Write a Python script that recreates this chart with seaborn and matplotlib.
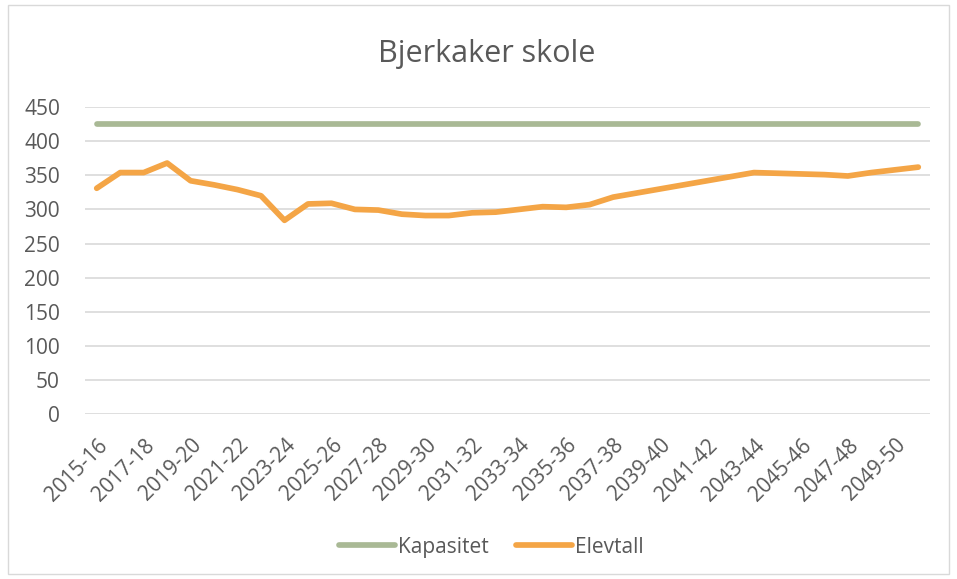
import pandas as pd
import seaborn as sns
import matplotlib.pyplot as plt
from matplotlib.patches import Rectangle

# school years 2015-16 .. 2050-51
years = [f"{y}-{str(y + 1)[-2:]}" for y in range(2015, 2051)]
kapasitet = [425] * len(years)
elevtall = [331, 354, 354, 368, 342, 336, 329, 320, 284, 308, 309, 300,
            299, 293, 291, 291, 295, 296, 300, 304, 303, 307, 318, 324,
            330, 336, 342, 348, 354, 353, 352, 351, 349, 354, 358, 362]

df = pd.DataFrame({'Skoleår': years, 'Kapasitet': kapasitet, 'Elevtall': elevtall})
long = df.melt(id_vars='Skoleår', var_name='Serie', value_name='Antall')
long['pos'] = long['Skoleår'].map({y: i for i, y in enumerate(years)})

sns.set_style('white')
plt.rcParams['font.family'] = ['Open Sans', 'DejaVu Sans']
grey = '#595959'
green, orange = '#A9B995', '#F4A546'

fig = plt.figure(figsize=(9.57, 5.79), dpi=100)
ax = fig.add_axes([0.0888, 0.285, 0.883, 0.530])

sns.lineplot(data=long, x='pos', y='Antall', hue='Serie',
             palette={'Kapasitet': green, 'Elevtall': orange},
             linewidth=4.1, ax=ax, legend=False, zorder=3,
             solid_capstyle='round', solid_joinstyle='round')
for line in ax.lines:
    line.set_clip_on(False)

ax.set_xlim(-0.5, len(years) - 0.5)
ax.set_ylim(0, 450)
ax.set_yticks(range(0, 451, 50))
ax.set_xticks(range(0, len(years), 2))
ax.set_xticklabels(years[::2], rotation=45, ha='right', rotation_mode='anchor')
ax.tick_params(axis='both', length=0, labelsize=15, labelcolor=grey)
ax.tick_params(axis='y', pad=18)
ax.tick_params(axis='x', pad=15)
ax.grid(axis='y', color='#D9D9D9', linewidth=1.2)
ax.set_axisbelow(True)
for s in ax.spines.values():
    s.set_visible(False)
ax.set_xlabel('')
ax.set_ylabel('')

fig.text(0.509, 0.907, 'Bjerkaker skole', ha='center', va='center',
         fontsize=22, color=grey)

handles = [plt.Line2D([], [], color=green, linewidth=4.1, solid_capstyle='round'),
           plt.Line2D([], [], color=orange, linewidth=4.1, solid_capstyle='round')]
fig.legend(handles, ['Kapasitet', 'Elevtall'], loc='center', bbox_to_anchor=(0.5136, 0.055),
           ncol=2, frameon=False, fontsize=15, labelcolor=grey, handlelength=2.7,
           handletextpad=0.15, columnspacing=1.3)

fig.patches.append(Rectangle((0.008, 0.008), 0.984, 0.984, transform=fig.transFigure,
                             fill=False, edgecolor='#D9D9D9', linewidth=1))

fig.savefig('out.png', dpi=100)
